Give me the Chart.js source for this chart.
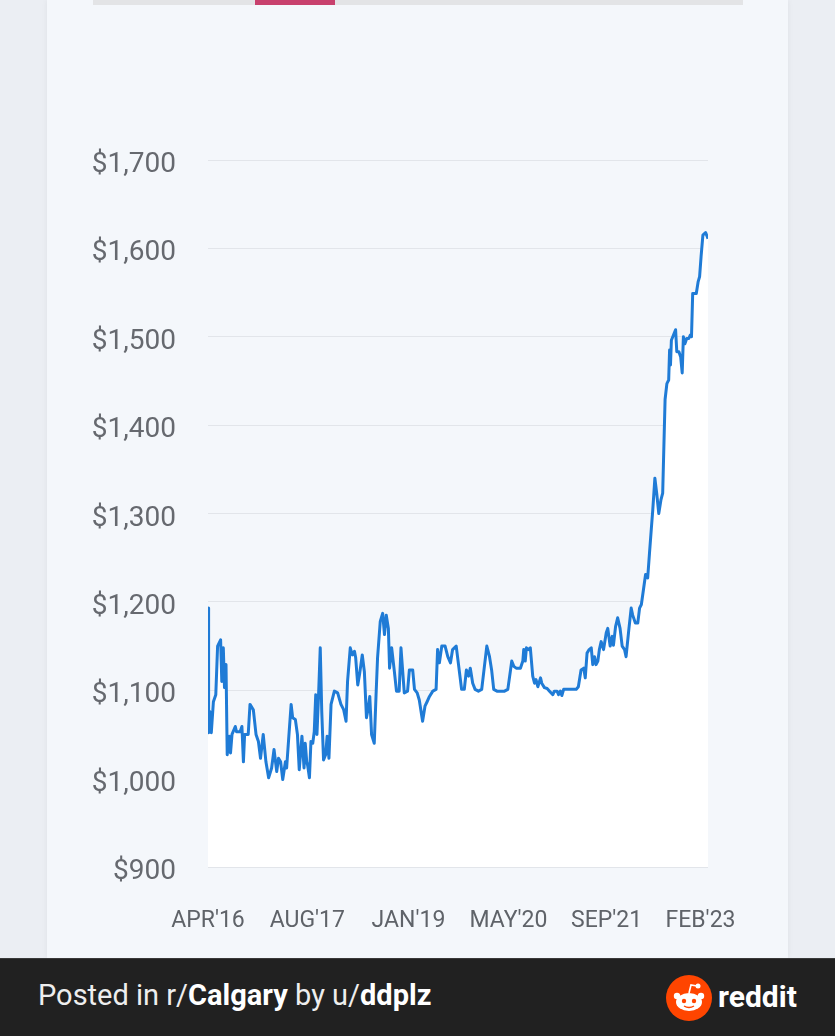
<!DOCTYPE html>
<html>
<head>
<meta charset="utf-8">
<script src="https://cdn.jsdelivr.net/npm/chart.js@4.4.0/dist/chart.umd.min.js"></script>
<style>
  html, body { margin: 0; padding: 0; }
  body { width: 835px; height: 1036px; background: #ebeef3; position: relative; overflow: hidden; font-family: Roboto, sans-serif; }
  #card { position: absolute; left: 47px; top: 0; width: 741px; height: 958px; background: #f4f7fb; box-shadow: 0 0 6px rgba(0,0,0,0.06); }
  #tabbar { position: absolute; left: 93px; top: 0; width: 650px; height: 5px; background: #e3e4e6; }
  #tabsel { position: absolute; left: 255px; top: 0; width: 80px; height: 5px; background: #c8416d; }
  #wrap { position: absolute; left: 0; top: 0; width: 835px; height: 958px; }
  #banner { position: absolute; left: 0; top: 958px; width: 835px; height: 78px; background: #212121; color: #eeeeee; border-top: 1px solid #3a3a3a; box-sizing: border-box; }
  #posted { position: absolute; left: 38px; top: 22px; font-size: 29px; line-height: 29px; }
  #posted b { font-weight: 700; color: #ffffff; }
  #logo { position: absolute; left: 666px; top: 16px; }
  #brand { position: absolute; left: 718px; top: 20px; font-size: 30px; font-weight: 700; color: #ffffff; }
</style>
</head>
<body>
<div id="card"></div>
<div id="tabbar"></div>
<div id="tabsel"></div>
<div id="wrap"><canvas id="rentChart" width="835" height="958"></canvas></div>
<div id="banner">
  <div id="posted">Posted in r/<b>Calgary</b> by u/<b>ddplz</b></div>
  <svg id="logo" width="46" height="46" viewBox="0 0 46 46">
    <circle cx="23" cy="23" r="23" fill="#ff4500"/>
    <ellipse cx="23" cy="27" rx="13" ry="9" fill="#ffffff"/>
    <circle cx="11" cy="21" r="3.2" fill="#ffffff"/>
    <circle cx="35" cy="21" r="3.2" fill="#ffffff"/>
    <circle cx="18" cy="26" r="2.2" fill="#ff4500"/>
    <circle cx="28" cy="26" r="2.2" fill="#ff4500"/>
    <path d="M18 31 Q23 34 28 31" stroke="#ff4500" stroke-width="1.4" fill="none"/>
    <path d="M23 18 L25 10 L31 11" stroke="#ffffff" stroke-width="1.6" fill="none"/>
    <circle cx="32" cy="11" r="2.5" fill="#ffffff"/>
  </svg>
  <div id="brand">reddit</div>
</div>

<script>
// months since Apr 2016
var months = [
  0.0, 0.1, 0.3, 0.55, 0.9, 1.3, 1.6, 2.1, 2.3, 2.55, 2.75, 3.0, 3.2, 3.55, 3.75, 4.0,
  4.55, 4.75, 5.35, 5.65, 5.9, 6.1, 6.7, 7.0, 7.55, 8.0, 8.4, 8.75, 9.2, 9.65, 10.1, 10.6,
  11.0, 11.45, 11.75, 12.1, 12.45, 12.9, 13.1, 13.45, 13.85, 14.1, 14.55, 14.9, 15.2, 15.65,
  16.0, 16.2, 16.45, 16.6, 16.9, 17.15, 17.45, 17.7, 17.95, 18.15, 18.4, 18.7, 18.95, 19.25,
  19.6, 19.85, 20.15, 20.5, 21.05, 21.6, 22.15, 22.6, 23.0, 23.25, 23.7, 24.05, 24.4, 24.6,
  24.95, 25.25, 25.7, 26.05, 26.4, 26.7, 26.95, 27.25, 27.7, 28.0, 28.25, 28.7, 29.1, 29.4,
  29.7, 30.05, 30.25, 30.6, 31.05, 31.4, 31.85, 32.15, 32.7, 33.25, 33.55, 34.1, 34.4, 34.85,
  35.2, 35.75, 36.15, 36.5, 36.9, 37.45, 38.0, 38.25, 38.55, 38.95, 39.5, 39.95, 40.4, 40.75,
  41.35, 41.7, 42.25, 42.7, 43.05, 43.4, 43.7, 44.1, 44.5, 45.05, 45.6, 46.05, 46.45, 46.9,
  47.25, 47.6, 48.15, 48.85, 49.4, 49.95, 50.4, 50.6, 50.95, 51.35, 52.05, 52.45, 52.6, 52.85,
  53.05, 53.4, 53.7, 54.1, 54.4, 54.65, 54.95, 55.4, 55.6, 56.05, 56.5, 56.9, 57.45, 57.7,
  58.15, 58.4, 58.7, 58.95, 59.25, 59.95, 60.75, 61.35, 61.7, 62.15, 62.6, 62.85, 63.15, 63.5,
  63.85, 64.1, 64.4, 64.65, 64.95, 65.2, 65.5, 65.9, 66.35, 66.6, 67.0, 67.35, 67.55, 67.9,
  68.25, 68.65, 69.0, 69.4, 69.65, 70.1, 70.5, 70.75, 71.2, 71.6, 71.9, 72.2, 72.55, 72.9,
  73.25, 73.55, 73.85, 74.1, 74.45, 74.75, 75.1, 75.45, 75.75, 75.95, 76.15, 76.45, 76.75, 76.9,
  77.05, 77.2, 77.55, 77.9, 78.1, 78.45, 78.75, 79.0, 79.2, 79.45, 79.75, 80.1, 80.35, 80.55,
  80.75, 81.35, 81.65, 81.9, 82.15, 82.45, 82.9, 83.3
];

// average rent ($)
var rents = [
  1193, 1052, 1076, 1052, 1087, 1095, 1150, 1157, 1110, 1148, 1103, 1129, 1027, 1048, 1029, 1050,
  1059, 1053, 1053, 1059, 1019, 1050, 1050, 1084, 1078, 1050, 1042, 1023, 1050, 1019, 1001, 1012,
  1033, 1008, 1023, 1019, 999, 1019, 1012, 1046, 1084, 1069, 1067, 1050, 1010, 1048,
  1012, 1040, 1019, 1015, 1001, 1042, 1040, 1053, 1095, 1050, 1091, 1148, 1076, 1021,
  1027, 1048, 1023, 1084, 1099, 1097, 1084, 1078, 1065, 1110, 1148, 1140, 1144, 1137,
  1106, 1118, 1140, 1121, 1069, 1080, 1093, 1050, 1040, 1095, 1137, 1178, 1187, 1163,
  1185, 1170, 1125, 1148, 1121, 1099, 1099, 1148, 1097, 1099, 1123, 1123, 1101, 1097,
  1089, 1065, 1082, 1087, 1093, 1099, 1101, 1146, 1131, 1150, 1150, 1138, 1131, 1146,
  1150, 1131, 1101, 1101, 1123, 1116, 1125, 1108, 1101, 1099, 1101, 1127, 1150, 1138,
  1123, 1101, 1099, 1099, 1099, 1101, 1123, 1133, 1127, 1125, 1125, 1133, 1146, 1133,
  1148, 1146, 1148, 1116, 1108, 1112, 1104, 1114, 1108, 1103, 1102, 1099, 1095, 1099,
  1099, 1095, 1099, 1094, 1101, 1101, 1101, 1101, 1104, 1123, 1125, 1114, 1142, 1146,
  1148, 1129, 1138, 1129, 1133, 1146, 1155, 1146, 1165, 1170, 1150, 1161, 1151, 1172,
  1182, 1170, 1150, 1146, 1138, 1168, 1193, 1185, 1176, 1176, 1193, 1197, 1214, 1231,
  1227, 1255, 1282, 1304, 1340, 1323, 1300, 1315, 1323, 1376, 1429, 1447, 1451, 1485,
  1468, 1496, 1502, 1508, 1483, 1483, 1477, 1459, 1500, 1492, 1498, 1498, 1502, 1500,
  1549, 1549, 1562, 1568, 1591, 1615, 1618, 1611
];

// x axis tick positions (months since Apr 2016) and their labels
var tickMonths = [0, 16.55, 33.4, 50.05, 66.4, 82.05];
var tickLabels = ["APR'16", "AUG'17", "JAN'19", "MAY'20", "SEP'21", "FEB'23"];

var points = months.map(function(m, i) {
  return { x: m, y: rents[i] };
});

var ctx = document.getElementById('rentChart').getContext('2d');
var rentChart = new Chart(ctx, {
  type: 'line',
  data: {
    datasets: [{
      data: points,
      borderColor: '#1f7bd6',
      borderWidth: 3,
      backgroundColor: '#ffffff',
      fill: 'start',
      pointRadius: 0,
      tension: 0,
      borderJoinStyle: 'round'
    }]
  },
  options: {
    responsive: false,
    animation: false,
    layout: {
      padding: { top: 160, right: 127, bottom: 0, left: 0 }
    },
    plugins: {
      legend: { display: false },
      tooltip: { enabled: false }
    },
    scales: {
      x: {
        type: 'linear',
        min: 0,
        max: 83.3,
        grid: { display: false, drawTicks: false },
        border: { display: false },
        afterBuildTicks: function(scale) {
          scale.ticks = tickMonths.map(function(v) { return { value: v }; });
        },
        afterFit: function(scale) {
          scale.height = 91;
        },
        ticks: {
          autoSkip: false,
          maxRotation: 0,
          padding: 40,
          color: '#5f6369',
          font: { family: 'Roboto', size: 23 },
          callback: function(value) {
            var i = tickMonths.indexOf(value);
            return i >= 0 ? tickLabels[i] : '';
          }
        }
      },
      y: {
        min: 900,
        max: 1700,
        grid: { color: '#e2e5ea', lineWidth: 1, drawTicks: false },
        border: { display: false },
        afterFit: function(scale) {
          scale.width = 208;
        },
        ticks: {
          stepSize: 100,
          padding: 32,
          labelOffset: 5,
          color: '#66696f',
          font: { family: 'Roboto', size: 28 },
          callback: function(value) {
            return '$' + value.toLocaleString('en-US');
          }
        }
      }
    }
  }
});
</script>
</body>
</html>
